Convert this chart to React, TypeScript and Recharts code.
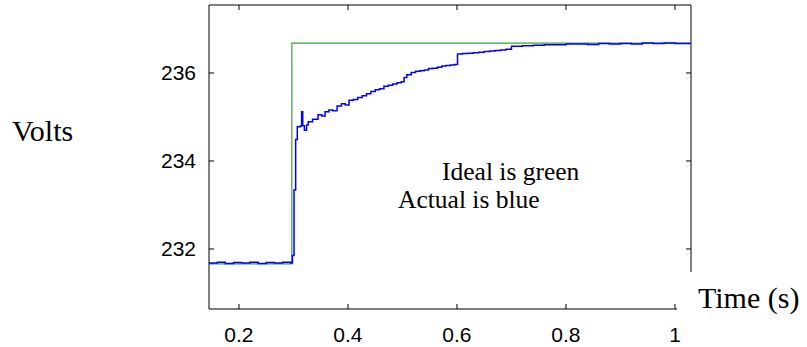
import React from "react";
import { LineChart, Line, XAxis, YAxis, ReferenceLine } from "recharts";

// ideal (green) step response
const idealTime = [0.145, 0.297, 1.0294];
const idealVolts = [231.66, 236.68, 236.68];

const actualTime = [
  0.145, 0.16, 0.175, 0.19, 0.205, 0.22, 0.235, 0.25, 0.265, 0.28, 0.295,
  0.298, 0.301, 0.304, 0.307, 0.313, 0.315, 0.317, 0.32, 0.324, 0.327,
  0.335, 0.345, 0.352, 0.358, 0.365, 0.372, 0.38, 0.388, 0.395, 0.402,
  0.41, 0.418, 0.426, 0.434, 0.442, 0.45, 0.458, 0.466, 0.474, 0.482,
  0.49, 0.498, 0.503, 0.508, 0.516, 0.524, 0.532, 0.54, 0.548, 0.556,
  0.564, 0.572, 0.58, 0.588, 0.596, 0.601, 0.61, 0.62, 0.63, 0.64, 0.65,
  0.66, 0.67, 0.68, 0.69, 0.7, 0.71, 0.72, 0.74, 0.76, 0.78, 0.8, 0.82,
  0.84, 0.86, 0.88, 0.9, 0.92, 0.94, 0.96, 0.98, 1.0, 1.0294,
];
const actualVolts = [
  231.68, 231.7, 231.67, 231.69, 231.68, 231.7, 231.67, 231.69, 231.68, 231.7, 231.68,
  231.85, 233.34, 234.49, 234.78, 234.8, 235.12, 234.8, 234.7, 234.82, 234.89,
  234.95, 235.05, 235.02, 235.12, 235.16, 235.14, 235.25, 235.3, 235.27, 235.38,
  235.4, 235.44, 235.48, 235.53, 235.58, 235.62, 235.64, 235.7, 235.72, 235.75,
  235.78, 235.8, 235.9, 235.96, 236.01, 236.04, 236.05, 236.07, 236.1, 236.11,
  236.13, 236.16, 236.17, 236.18, 236.19, 236.43, 236.44, 236.45, 236.46, 236.47, 236.49,
  236.5, 236.51, 236.52, 236.54, 236.61, 236.61, 236.62, 236.63, 236.64, 236.64, 236.66, 236.66,
  236.65, 236.67, 236.66, 236.67, 236.66, 236.68, 236.67, 236.68, 236.67, 236.68,
];

const xTicks = [0.2, 0.4, 0.6, 0.8, 1];
const yTicks = [232, 234, 236];
const xDomain = [0.145, 1.0294];
const yDomain = [230.636, 237.545];
// the right frame stops where the "Time (s)" label sits
const rightFrameBottom = 231.477;
// inward tick length (5px) in data units
const xTickLen = 5 / 44;
const yTickLen = 5 / 545;

const idealData = idealTime.map((t, i) => ({ t, v: idealVolts[i] }));
const actualData = actualTime.map((t, i) => ({ t, v: actualVolts[i] }));

const tickFont = { fill: "#000", fontSize: 21, fontFamily: "'Liberation Sans', Arial, sans-serif" };
const serif = "'Liberation Serif', 'Times New Roman', serif";

export default function App() {
  const [x0, x1] = xDomain;
  const [y0, y1] = yDomain;
  return (
    <div style={{ position: "absolute", left: 0, top: 0, width: 807, height: 347, background: "#fff" }}>
      <LineChart
        width={807}
        height={347}
        margin={{ top: 5, right: 116, bottom: 8, left: 149 }}
      >
        <XAxis
          dataKey="t"
          type="number"
          domain={xDomain}
          ticks={xTicks}
          allowDataOverflow
          height={30}
          tickLine={false}
          tickMargin={12}
          tick={tickFont}
          axisLine={{ stroke: "#000" }}
        />
        <YAxis
          type="number"
          domain={yDomain}
          ticks={yTicks}
          allowDataOverflow
          width={60}
          tickLine={false}
          tickMargin={7}
          tick={tickFont}
          axisLine={{ stroke: "#000" }}
        />

        {/* frame: top and right */}
        <ReferenceLine y={y1} stroke="#000" strokeWidth={1} ifOverflow="visible" />
        <ReferenceLine
          segment={[{ x: x1, y: rightFrameBottom }, { x: x1, y: y1 }]}
          stroke="#000"
          ifOverflow="visible"
        />

        {/* inward ticks, bottom and top */}
        {xTicks.map((t) => (
          <ReferenceLine key={"b" + t} segment={[{ x: t, y: y0 }, { x: t, y: y0 + xTickLen }]} stroke="#000" ifOverflow="visible" />
        ))}
        {xTicks.map((t) => (
          <ReferenceLine key={"t" + t} segment={[{ x: t, y: y1 }, { x: t, y: y1 - xTickLen }]} stroke="#000" ifOverflow="visible" />
        ))}
        {/* inward ticks, left and right */}
        {yTicks.map((v) => (
          <ReferenceLine key={"l" + v} segment={[{ x: x0, y: v }, { x: x0 + yTickLen, y: v }]} stroke="#000" ifOverflow="visible" />
        ))}
        {yTicks.map((v) => (
          <ReferenceLine key={"r" + v} segment={[{ x: x1, y: v }, { x: x1 - yTickLen, y: v }]} stroke="#000" ifOverflow="visible" />
        ))}

        {/* ideal */}
        <Line
          data={idealData}
          dataKey="v"
          type="stepAfter"
          stroke="#3f9f3f"
          strokeWidth={1.2}
          dot={false}
          isAnimationActive={false}
        />
        {/* actual */}
        <Line
          data={actualData}
          dataKey="v"
          type="stepAfter"
          stroke="#0000ff"
          strokeWidth={1.5}
          dot={false}
          isAnimationActive={false}
        />
      </LineChart>

      <svg
        width={807}
        height={347}
        style={{ position: "absolute", left: 0, top: 0, pointerEvents: "none" }}
      >
        <rect x={677} y={272} width={130} height={46} fill="#fff" />
        <text x={12} y={141} fontFamily={serif} fontSize={30} fill="#000">
          Volts
        </text>
        <text x={698} y={308} fontFamily={serif} fontSize={30} fill="#000">
          Time (s)
        </text>
        <text x={442} y={180} fontFamily={serif} fontSize={25.5} fill="#000">
          Ideal is green
        </text>
        <text x={398} y={208} fontFamily={serif} fontSize={25.5} fill="#000">
          Actual is blue
        </text>
      </svg>
    </div>
  );
}
